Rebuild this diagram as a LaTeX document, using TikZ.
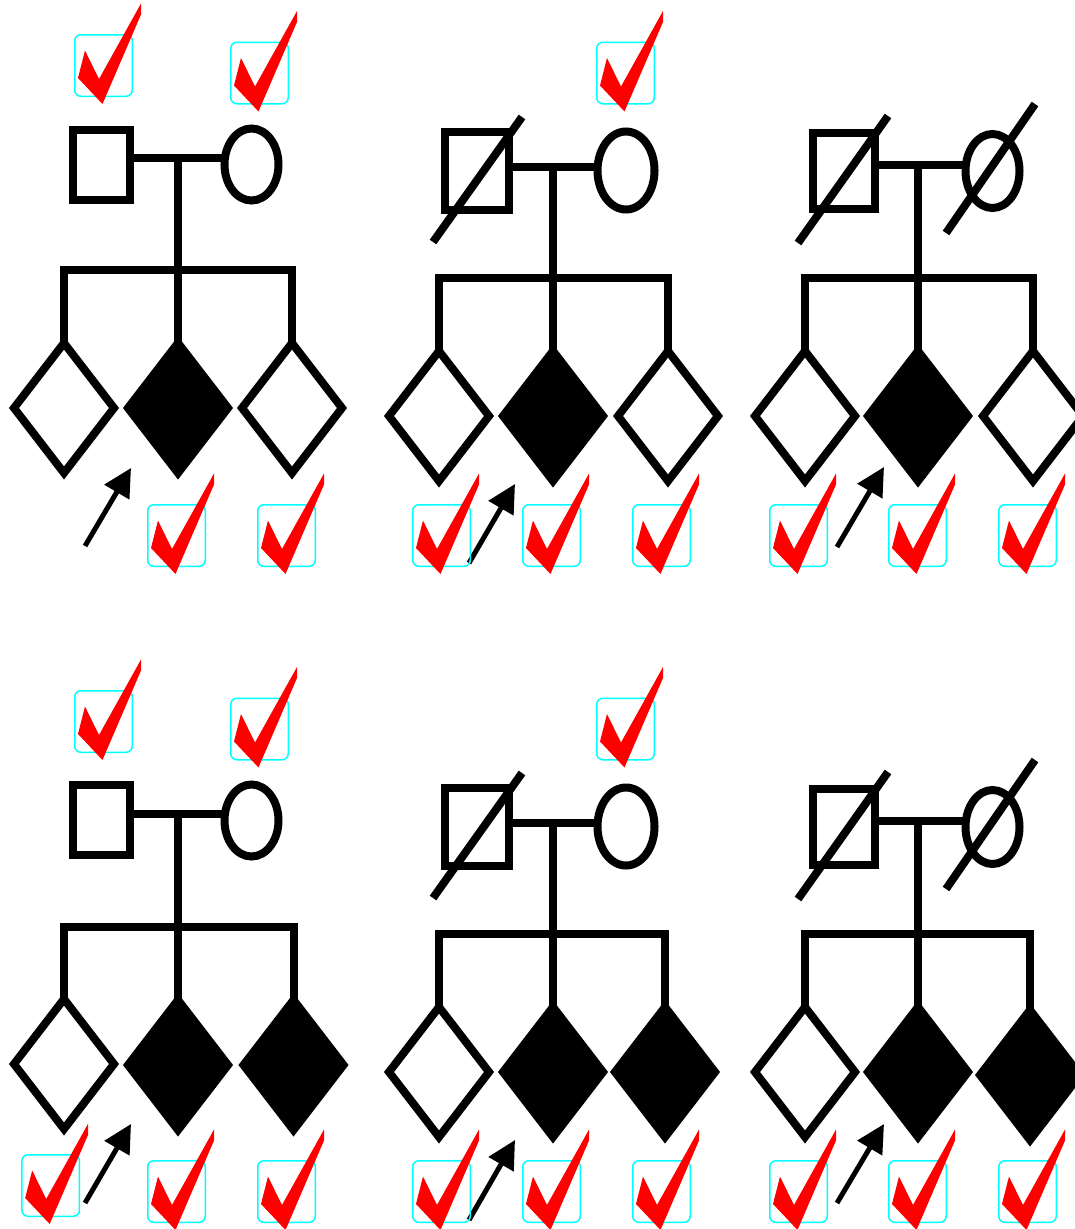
\documentclass[tikz,border=0pt]{standalone}
\usetikzlibrary{shapes.geometric,arrows.meta,calc}
\definecolor{boxcyan}{RGB}{0,255,255}
\definecolor{chkred}{RGB}{255,0,0}
\tikzset{
  sym/.style={draw=black,line width=8pt,line join=miter},
  sqbox/.style={sym,rectangle,inner sep=0pt,outer sep=0pt},
  circbox/.style={sym,ellipse,inner sep=0pt,outer sep=0pt},
  diabox/.style={sym,diamond,inner sep=0pt,outer sep=0pt,minimum width=100pt,minimum height=130pt},
  affected/.style={diabox,fill=black},
  slash/.style={draw=black,line width=8pt},
  proband/.style={draw=black,line width=5pt,-{Triangle[length=28pt,width=28pt]}},
  chkbox/.style={draw=boxcyan,line width=1.5pt,rounded corners=6pt,inner sep=0pt,minimum width=57.5pt,minimum height=61.5pt},
}
\newcommand\pedchk[3]{%
  \node[chkbox] (#1) at (#2,#3) {};
  \fill[chkred,shift={(#2,#3)}] (37.5,-62) -- (37.5,-51) -- (-1,38.5) -- (-25.5,12.5) -- (-18.5,-15) -- (-4.5,13.5) -- cycle;}
\begin{document}
\begin{tikzpicture}[x=1pt,y=-1pt]
\clip (0,0) rectangle (1075,1229);
\fill[white] (0,0) rectangle (1075,1229);

% ===== Panel 1 =====
\node[sqbox,minimum width=57pt,minimum height=70pt] (p1f) at (101,164.5) {};
\node[circbox,minimum width=54pt,minimum height=72pt] (p1m) at (251.5,164.5) {};
\coordinate (p1j) at (178,158);
\coordinate (p1s) at (178,270);
\node[diabox] (p1a) at (64,408) {};
\node[affected] (p1b) at (178,408) {};
\node[diabox] (p1c) at (292,408) {};
\draw[sym] (p1f.east |- p1j) -- (p1m.west |- p1j);
\draw[sym] (p1j) -- (p1b.north);
\draw[sym] (p1a.north) -- (p1a.north |- p1s) -- (p1c.north |- p1s) -- (p1c.north);
\coordinate (p1u) at (85,546); \coordinate (p1t) at (131,468);
\draw[proband] (p1u) -- (p1t);

% ===== Panel 2 =====
\node[sqbox,minimum width=64pt,minimum height=78pt] (p2f) at (477,170.5) {};
\node[circbox,minimum width=57pt,minimum height=78pt] (p2m) at (626,170.5) {};
\draw[slash] ($(p2f.center)+(-44,71.5)$) -- ($(p2f.center)+(45,-53.5)$);
\coordinate (p2j) at (553,166.5);
\coordinate (p2s) at (553,278);
\node[diabox] (p2a) at (439,416) {};
\node[affected] (p2b) at (553,416) {};
\node[diabox] (p2c) at (668,416) {};
\draw[sym] (p2f.east |- p2j) -- (p2m.west |- p2j);
\draw[sym] (p2j) -- (p2b.north);
\draw[sym] (p2a.north) -- (p2a.north |- p2s) -- (p2c.north |- p2s) -- (p2c.north);
\coordinate (p2u) at (469,563); \coordinate (p2t) at (515,484);
\draw[proband] (p2u) -- (p2t);

% ===== Panel 3 =====
\node[sqbox,minimum width=62pt,minimum height=76pt] (p3f) at (843.5,170.5) {};
\node[circbox,minimum width=54pt,minimum height=74pt] (p3m) at (992.5,171) {};
\draw[slash] ($(p3f.center)+(-45.5,72.5)$) -- ($(p3f.center)+(44.5,-54.5)$);
\draw[slash] ($(p3m.center)+(-46.5,62)$) -- ($(p3m.center)+(42.5,-67)$);
\coordinate (p3j) at (918,165);
\coordinate (p3s) at (918,278);
\node[diabox] (p3a) at (805,416) {};
\node[affected] (p3b) at (918,416) {};
\node[diabox] (p3c) at (1033,416) {};
\draw[sym] (p3f.east |- p3j) -- (p3m.west |- p3j);
\draw[sym] (p3j) -- (p3b.north);
\draw[sym] (p3a.north) -- (p3a.north |- p3s) -- (p3c.north |- p3s) -- (p3c.north);
\coordinate (p3u) at (837,547); \coordinate (p3t) at (884,467);
\draw[proband] (p3u) -- (p3t);

% ===== Panel 4 =====
\node[sqbox,minimum width=57pt,minimum height=70pt] (p4f) at (101,820) {};
\node[circbox,minimum width=54pt,minimum height=72pt] (p4m) at (251.5,820.5) {};
\coordinate (p4j) at (178,814);
\coordinate (p4s) at (178,927);
\node[diabox] (p4a) at (64,1064) {};
\node[affected] (p4b) at (178,1065) {};
\node[affected] (p4c) at (293.5,1065) {};
\draw[sym] (p4f.east |- p4j) -- (p4m.west |- p4j);
\draw[sym] (p4j) -- (p4b.north);
\draw[sym] (p4a.north) -- (p4a.north |- p4s) -- (p4c.north |- p4s) -- (p4c.north);
\coordinate (p4u) at (85,1203); \coordinate (p4t) at (131,1124);
\draw[proband] (p4u) -- (p4t);

% ===== Panel 5 =====
\node[sqbox,minimum width=64pt,minimum height=78pt] (p5f) at (477,826.5) {};
\node[circbox,minimum width=57pt,minimum height=78pt] (p5m) at (626,826.5) {};
\draw[slash] ($(p5f.center)+(-44,71.5)$) -- ($(p5f.center)+(45,-53.5)$);
\coordinate (p5j) at (553,822.5);
\coordinate (p5s) at (553,934);
\node[diabox] (p5a) at (439,1072) {};
\node[affected] (p5b) at (553,1072) {};
\node[affected] (p5c) at (665,1072) {};
\draw[sym] (p5f.east |- p5j) -- (p5m.west |- p5j);
\draw[sym] (p5j) -- (p5b.north);
\draw[sym] (p5a.north) -- (p5a.north |- p5s) -- (p5c.north |- p5s) -- (p5c.north);
\coordinate (p5u) at (469,1220); \coordinate (p5t) at (515,1140);
\draw[proband] (p5u) -- (p5t);

% ===== Panel 6 =====
\node[sqbox,minimum width=62pt,minimum height=76pt] (p6f) at (843.5,826.5) {};
\node[circbox,minimum width=54pt,minimum height=74pt] (p6m) at (992.5,827) {};
\draw[slash] ($(p6f.center)+(-45.5,72.5)$) -- ($(p6f.center)+(44.5,-54.5)$);
\draw[slash] ($(p6m.center)+(-46.5,62)$) -- ($(p6m.center)+(42.5,-67)$);
\coordinate (p6j) at (918,821);
\coordinate (p6s) at (918,934);
\node[diabox] (p6a) at (805,1072) {};
\node[affected] (p6b) at (918,1072) {};
\node[affected] (p6c) at (1030,1075) {};
\draw[sym] (p6f.east |- p6j) -- (p6m.west |- p6j);
\draw[sym] (p6j) -- (p6b.north);
\draw[sym] (p6a.north) -- (p6a.north |- p6s) -- (p6c.north |- p6s) -- (p6c.north);
\coordinate (p6u) at (837,1203); \coordinate (p6t) at (884,1124);
\draw[proband] (p6u) -- (p6t);

% ===== Checks =====
\pedchk{k1a}{103.5}{65.5}
\pedchk{k1b}{259.5}{73}
\pedchk{k1c}{176.5}{535.5}
\pedchk{k1d}{286.5}{535.5}
\pedchk{k2a}{625.5}{73}
\pedchk{k2b}{441.5}{535.5}
\pedchk{k2c}{551.5}{535.5}
\pedchk{k2d}{661.5}{535.5}
\pedchk{k3b}{798.5}{535.5}
\pedchk{k3c}{917.5}{535.5}
\pedchk{k3d}{1027.5}{535.5}
\pedchk{k4a}{103.5}{721.5}
\pedchk{k4b}{259.5}{729}
\pedchk{k4e}{50.7}{1185.5}
\pedchk{k4c}{176.5}{1191.5}
\pedchk{k4d}{286.5}{1191.5}
\pedchk{k5a}{625.5}{729}
\pedchk{k5b}{441.5}{1191.5}
\pedchk{k5c}{551.5}{1191.5}
\pedchk{k5d}{661.5}{1191.5}
\pedchk{k6b}{798.5}{1191.5}
\pedchk{k6c}{917.5}{1191.5}
\pedchk{k6d}{1027.5}{1191.5}
\end{tikzpicture}
\end{document}
